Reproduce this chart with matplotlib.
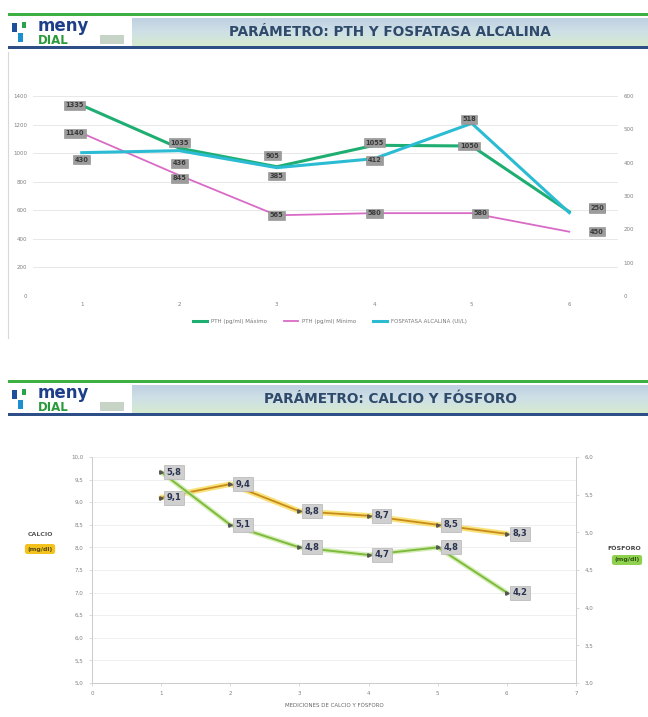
import matplotlib
matplotlib.use('Agg')
import matplotlib.pyplot as plt
import numpy as np
from matplotlib.patches import Rectangle
from matplotlib.colors import LinearSegmentedColormap

W, H, DPI = 648, 717, 100

# --- data: PTH y fosfatasa alcalina ---
MEDICIONES = [1, 2, 3, 4, 5, 6]
PTH_MAX = [1335, 1035, 905, 1055, 1050, 590]
PTH_MIN = [1140, 845, 565, 580, 580, 450]
FOSFATASA = [430, 436, 385, 412, 518, 250]
PTH_TICKS = [0, 200, 400, 600, 800, 1000, 1200, 1400]
FA_TICKS = [0, 100, 200, 300, 400, 500, 600]
LEGEND_TOP = ['PTH (pg/ml) Máximo', 'PTH (pg/ml) Mínimo', 'FOSFATASA ALCALINA (UI/L)']

# --- data: calcio y fosforo ---
CALCIO = [9.1, 9.4, 8.8, 8.7, 8.5, 8.3]
FOSFORO = [5.8, 5.1, 4.8, 4.7, 4.8, 4.2]
CA_TICKS = [5.0, 5.5, 6.0, 6.5, 7.0, 7.5, 8.0, 8.5, 9.0, 9.5, 10.0]
P_TICKS = [3.0, 3.5, 4.0, 4.5, 5.0, 5.5, 6.0]
X_TICKS2 = [0, 1, 2, 3, 4, 5, 6, 7]

GREEN = '#1fae72'
PINK = '#d96bc6'
CYAN = '#2bbcd4'
ORANGE = '#c98a1a'
ORANGE_GLOW = '#f7dc5a'
LIME = '#7dbb3c'
LIME_GLOW = '#cde9a6'
TICK = '#808080'


def comma(v):
    return f'{v:.1f}'.replace('.', ',')


def px_axes(x0, y0, x1, y1):
    # pixel box (top-left origin) -> figure fraction
    return [x0 / W, 1 - y1 / H, (x1 - x0) / W, (y1 - y0) / H]


def header(bg, y0, title):
    bg.add_patch(Rectangle((8, y0), 640, 3, color='#3cb043', lw=0))
    grad = LinearSegmentedColormap.from_list('hdr', ['#bfd1e2', '#cfe0e6', '#d6eacf'])
    g = np.linspace(0, 1, 50).reshape(-1, 1)
    bg.imshow(g, cmap=grad, extent=(8, 648, y0 + 33, y0 + 5), aspect='auto', zorder=1)
    bg.add_patch(Rectangle((8, y0 + 33), 640, 3, color='#2d4e86', lw=0, zorder=2))
    bg.add_patch(Rectangle((8, y0 + 5), 124, 28, color='white', lw=0, zorder=2))
    # logo
    bg.add_patch(Rectangle((12, y0 + 10), 5, 9, color='#1d4f9a', lw=0, zorder=3))
    bg.add_patch(Rectangle((18, y0 + 20), 5, 9, color='#1d8fd0', lw=0, zorder=3))
    bg.add_patch(Rectangle((22, y0 + 9), 4, 6, color='#2aa34a', lw=0, zorder=3))
    bg.text(38, y0 + 13, 'meny', color='#1d3f8a', fontsize=12, fontweight='bold',
            va='center', ha='left', zorder=3)
    bg.text(38, y0 + 27.5, 'DIAL', color='#2a9a3a', fontsize=8.5, fontweight='bold',
            va='center', ha='left', zorder=3)
    bg.add_patch(Rectangle((100, y0 + 22), 24, 9, color='#c8d3c8', lw=0, zorder=3))
    bg.text(390, y0 + 19, title, color='#2f4a6a', fontsize=9.8, fontweight='bold',
            va='center', ha='center', zorder=3)


fig = plt.figure(figsize=(W / DPI, H / DPI), dpi=DPI)
bg = fig.add_axes([0, 0, 1, 1], zorder=-1)
bg.axis('off')
header(bg, 13, 'PARÁMETRO: PTH Y FOSFATASA ALCALINA')
header(bg, 380, 'PARÁMETRO: CALCIO Y FÓSFORO')
bg.plot([8, 8], [52, 338], color='#d8d8d8', lw=0.8)
bg.set_xlim(0, W)
bg.set_ylim(H, 0)

# ---------------- top chart ----------------
ax1 = fig.add_axes(px_axes(33, 96, 618, 296))
ax1b = ax1.twinx()
ax1.set_xlim(0.5, 6.5)
ax1.set_ylim(0, 1400)
ax1b.set_ylim(0, 600)
ax1.set_yticks(PTH_TICKS)
ax1b.set_yticks(FA_TICKS)
ax1.set_xticks(MEDICIONES)
for a in (ax1, ax1b):
    for s in a.spines.values():
        s.set_visible(False)
    a.tick_params(length=0, labelsize=4, colors=TICK, pad=4)
ax1.grid(axis='y', color='#e4e4e4', lw=0.6)
ax1.set_axisbelow(True)

l1, = ax1.plot(MEDICIONES, PTH_MAX, color=GREEN, lw=2.2, zorder=3)
l2, = ax1.plot(MEDICIONES, PTH_MIN, color=PINK, lw=1.3, zorder=3)
l3, = ax1b.plot(MEDICIONES, FOSFATASA, color=CYAN, lw=2.2, zorder=3)

box_top = dict(boxstyle='square,pad=0.22', fc='#9c9c9c', ec='#8a8a8a', lw=0.4)
off_max = [(-5, 0), (0, 4), (-3, 8), (0, 2), (-2, 0), (20, 3)]
off_min = [(-5, 0), (0, -2), (0, 0), (0, 0), (6, 0), (20, 0)]
off_fa = [(0, -5), (0, -9), (0, -6), (0, -1), (-2, 3), (20, 3)]
for series, offs, a in ((PTH_MAX, off_max, ax1), (PTH_MIN, off_min, ax1),
                        (FOSFATASA, off_fa, ax1b)):
    for x, v, o in zip(MEDICIONES, series, offs):
        a.annotate(f'{v}', (x, v), xytext=o, textcoords='offset points',
                   ha='center', va='center', fontsize=4.8, fontweight='bold',
                   color='#3a3a3a', bbox=box_top, zorder=5)

fig.legend([l1, l2, l3], LEGEND_TOP, loc='center', bbox_to_anchor=(330 / W, 1 - 321 / H),
           ncol=3, fontsize=4, frameon=False, handlelength=2.5, columnspacing=3,
           labelcolor='#777777')

# ---------------- bottom chart ----------------
ax2 = fig.add_axes(px_axes(92, 457, 576, 683))
ax2b = ax2.twinx()
ax2.set_xlim(0, 7)
ax2.set_ylim(5, 10)
ax2b.set_ylim(3, 6)
ax2.set_xticks(X_TICKS2)
ax2.set_yticks(CA_TICKS)
ax2.set_yticklabels([comma(v) for v in CA_TICKS])
ax2b.set_yticks(P_TICKS)
ax2b.set_yticklabels([comma(v) for v in P_TICKS])
for a in (ax2, ax2b):
    a.spines['top'].set_visible(False)
    for s in ('left', 'right', 'bottom'):
        a.spines[s].set_color('#cccccc')
        a.spines[s].set_linewidth(0.7)
    a.tick_params(length=2, width=0.5, color='#cccccc', labelsize=4, labelcolor=TICK, pad=4)
ax2.grid(axis='y', color='#ececec', lw=0.6)
ax2.set_axisbelow(True)

ax2.plot(MEDICIONES, CALCIO, color=ORANGE_GLOW, lw=4, alpha=0.8, zorder=2, solid_capstyle='round')
ax2.plot(MEDICIONES, CALCIO, color=ORANGE, lw=1.3, zorder=3, marker='>', ms=2.5,
         mfc='#555555', mec='#555555')
ax2b.plot(MEDICIONES, FOSFORO, color=LIME_GLOW, lw=3.5, alpha=0.8, zorder=2, solid_capstyle='round')
ax2b.plot(MEDICIONES, FOSFORO, color=LIME, lw=1.4, zorder=3, marker='>', ms=2.5,
          mfc='#555555', mec='#555555')

box_bot = dict(boxstyle='square,pad=0.3', fc='#cfcfcf', ec='#b5b5b5', lw=0.5)
for a, series in ((ax2, CALCIO), (ax2b, FOSFORO)):
    for x, v in zip(MEDICIONES, series):
        a.annotate(comma(v), (x, v), xytext=(4, 0), textcoords='offset points',
                   ha='left', va='center', fontsize=6, fontweight='bold',
                   color='#2a3350', bbox=box_bot, zorder=5)

ax2.set_xlabel('MEDICIONES DE CALCIO Y FÓSFORO', fontsize=4, color='#666666', labelpad=5)

fig.text(40 / W, 1 - 535 / H, 'CALCIO', fontsize=4.5, color='#555555', ha='center', va='center',
         fontweight='bold')
fig.text(40 / W, 1 - 549 / H, '(mg/dl)', fontsize=4.5, color='#5a4a10', ha='center', va='center',
         fontweight='bold', bbox=dict(boxstyle='round,pad=0.4', fc='#f3c21c', ec='none'))
fig.text(624 / W, 1 - 548 / H, 'FÓSFORO', fontsize=4.5, color='#444444', ha='center', va='center',
         fontweight='bold')
fig.text(627 / W, 1 - 560 / H, '(mg/dl)', fontsize=4.5, color='#2e5a10', ha='center', va='center',
         fontweight='bold', bbox=dict(boxstyle='round,pad=0.4', fc='#8fd14f', ec='none'))

fig.savefig('out.png', dpi=DPI, facecolor='white')
